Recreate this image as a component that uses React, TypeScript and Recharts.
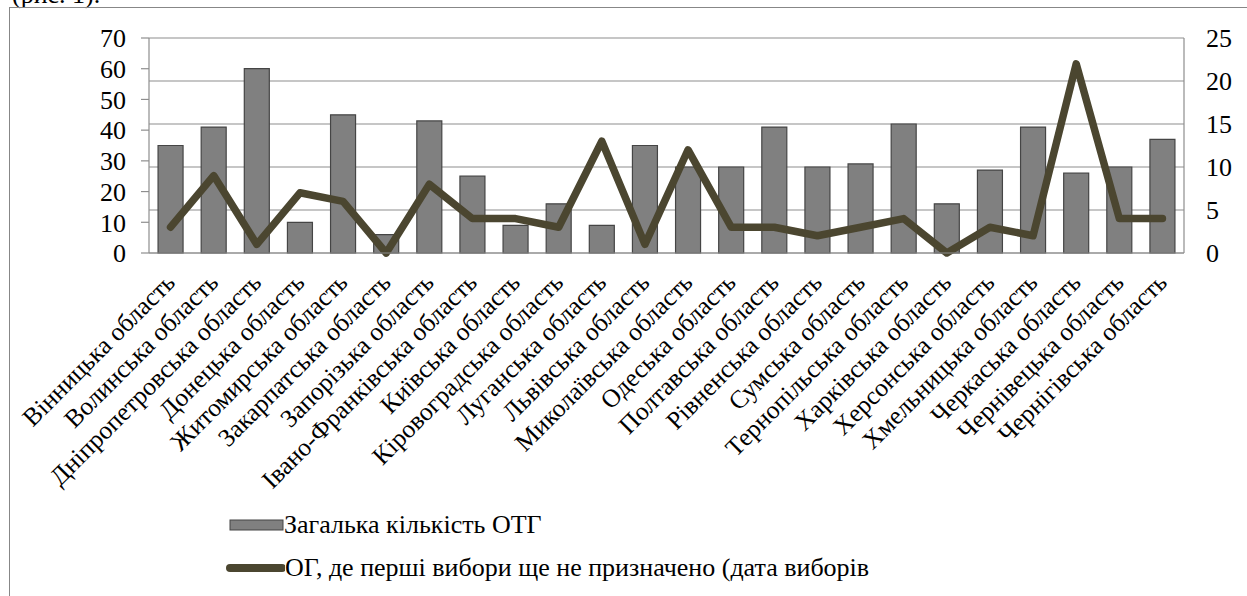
import React from 'react';
import { ComposedChart, Bar, Line, XAxis, YAxis, CartesianGrid, Legend } from 'recharts';

const regions = [
  'Вінницька область', 'Волинська область', 'Дніпропетровська область', 'Донецька область',
  'Житомирська область', 'Закарпатська область', 'Запорізька область', 'Івано-Франківська область',
  'Київська область', 'Кіровоградська область', 'Луганська область', 'Львівська область',
  'Миколаївська область', 'Одеська область', 'Полтавська область', 'Рівненська область',
  'Сумська область', 'Тернопільська область', 'Харківська область', 'Херсонська область',
  'Хмельницька область', 'Черкаська область', 'Чернівецька область', 'Чернігівська область',
];
const totalOtg = [35, 41, 60, 10, 45, 6, 43, 25, 9, 16, 9, 35, 28, 28, 41, 28, 29, 42, 16, 27, 41, 26, 28, 37];
const noElections = [3, 9, 1, 7, 6, 0, 8, 4, 4, 3, 13, 1, 12, 3, 3, 2, 3, 4, 0, 3, 2, 22, 4, 4];
const leftTicks = [0, 10, 20, 30, 40, 50, 60, 70];
const rightTicks = [0, 5, 10, 15, 20, 25];

const barName = 'Загалька кількість ОТГ';
const lineName = 'ОГ, де перші вибори ще не призначено (дата виборів';

const data = regions.map((name, i) => ({ name, total: totalOtg[i], none: noElections[i] }));

const FONT = "'Liberation Serif', 'DejaVu Serif', serif";
const BAR_FILL = '#808080';
const BAR_STROKE = '#454545';
const LINE_COLOR = '#4b4630';
const GRID = '#8e8e8e';

// rotated category label, anchored at its end just right of the tick
const CategoryTick = (props: any) => {
  const { x, y, payload } = props;
  return (
    <text
      transform={`translate(${x + 6}, ${y + 31}) rotate(-45)`}
      textAnchor="end"
      style={{ fontFamily: FONT }}
      fontSize={25.5}
      fill="#000"
    >
      {payload.value}
    </text>
  );
};

const LegendBox = () => (
  <div style={{ fontFamily: FONT, fontSize: 26, color: '#000', lineHeight: '43px' }}>
    <div style={{ display: 'flex', alignItems: 'center' }}>
      <svg width={62} height={14}>
        <rect x={8} y={2} width={53} height={10} fill={BAR_FILL} stroke={BAR_STROKE} strokeWidth={1} />
      </svg>
      <span>{barName}</span>
    </div>
    <div style={{ display: 'flex', alignItems: 'center' }}>
      <svg width={63} height={14}>
        <line x1={8} y1={7} x2={60} y2={7} stroke={LINE_COLOR} strokeWidth={8} strokeLinecap="round" />
      </svg>
      <span>{lineName}</span>
    </div>
  </div>
);

export default function App() {
  return (
    <div style={{ position: 'fixed', left: 0, top: 0, width: 1247, height: 596, overflow: 'hidden', background: '#fff', fontFamily: FONT }}>
      <div style={{ position: 'absolute', left: 12, top: -20, fontFamily: FONT, fontSize: 26 }}>(рис. 1).</div>
      <div style={{ position: 'absolute', left: 9, top: 7, width: 1400, height: 800, border: '1px solid #878787' }} />
      <div style={{ position: 'absolute', left: 0, top: 0 }}>
        <ComposedChart
          width={1247}
          height={596}
          data={data}
          margin={{ top: 38, right: 0, left: 0, bottom: 0 }}
          barCategoryGap="21%"
        >
          <CartesianGrid yAxisId="right" vertical={false} stroke={GRID} strokeWidth={1.2} />
          <XAxis
            dataKey="name"
            height={343}
            interval={0}
            tickSize={0}
            tickMargin={0}
            tickLine={false}
            axisLine={{ stroke: GRID, strokeWidth: 1.2 }}
            tick={<CategoryTick />}
          />
          <YAxis
            yAxisId="left"
            orientation="left"
            width={149}
            domain={[0, 70]}
            ticks={leftTicks}
            interval={0}
            tickSize={8}
            tickMargin={15}
            tickLine={{ stroke: GRID, strokeWidth: 1.2 }}
            axisLine={{ stroke: GRID, strokeWidth: 1.2 }}
            tick={{ style: { fontFamily: FONT }, fontSize: 26, fill: '#000' }}
          />
          <YAxis
            yAxisId="right"
            orientation="right"
            width={63}
            domain={[0, 25]}
            ticks={rightTicks}
            interval={0}
            tickSize={0}
            tickMargin={22}
            tickLine={false}
            axisLine={{ stroke: GRID, strokeWidth: 1.2 }}
            tick={{ style: { fontFamily: FONT }, fontSize: 26, fill: '#000' }}
          />
          <Bar
            yAxisId="left"
            dataKey="total"
            name={barName}
            fill={BAR_FILL}
            stroke={BAR_STROKE}
            strokeWidth={1.2}
            isAnimationActive={false}
          />
          <Line
            yAxisId="right"
            dataKey="none"
            name={lineName}
            stroke={LINE_COLOR}
            strokeWidth={7.5}
            strokeLinejoin="round"
            strokeLinecap="round"
            dot={false}
            activeDot={false}
            isAnimationActive={false}
          />
          <Legend
            layout="vertical"
            align="center"
            verticalAlign="middle"
            content={<LegendBox />}
            wrapperStyle={{ left: 222, top: 503, width: 900 }}
          />
        </ComposedChart>
      </div>
    </div>
  );
}
